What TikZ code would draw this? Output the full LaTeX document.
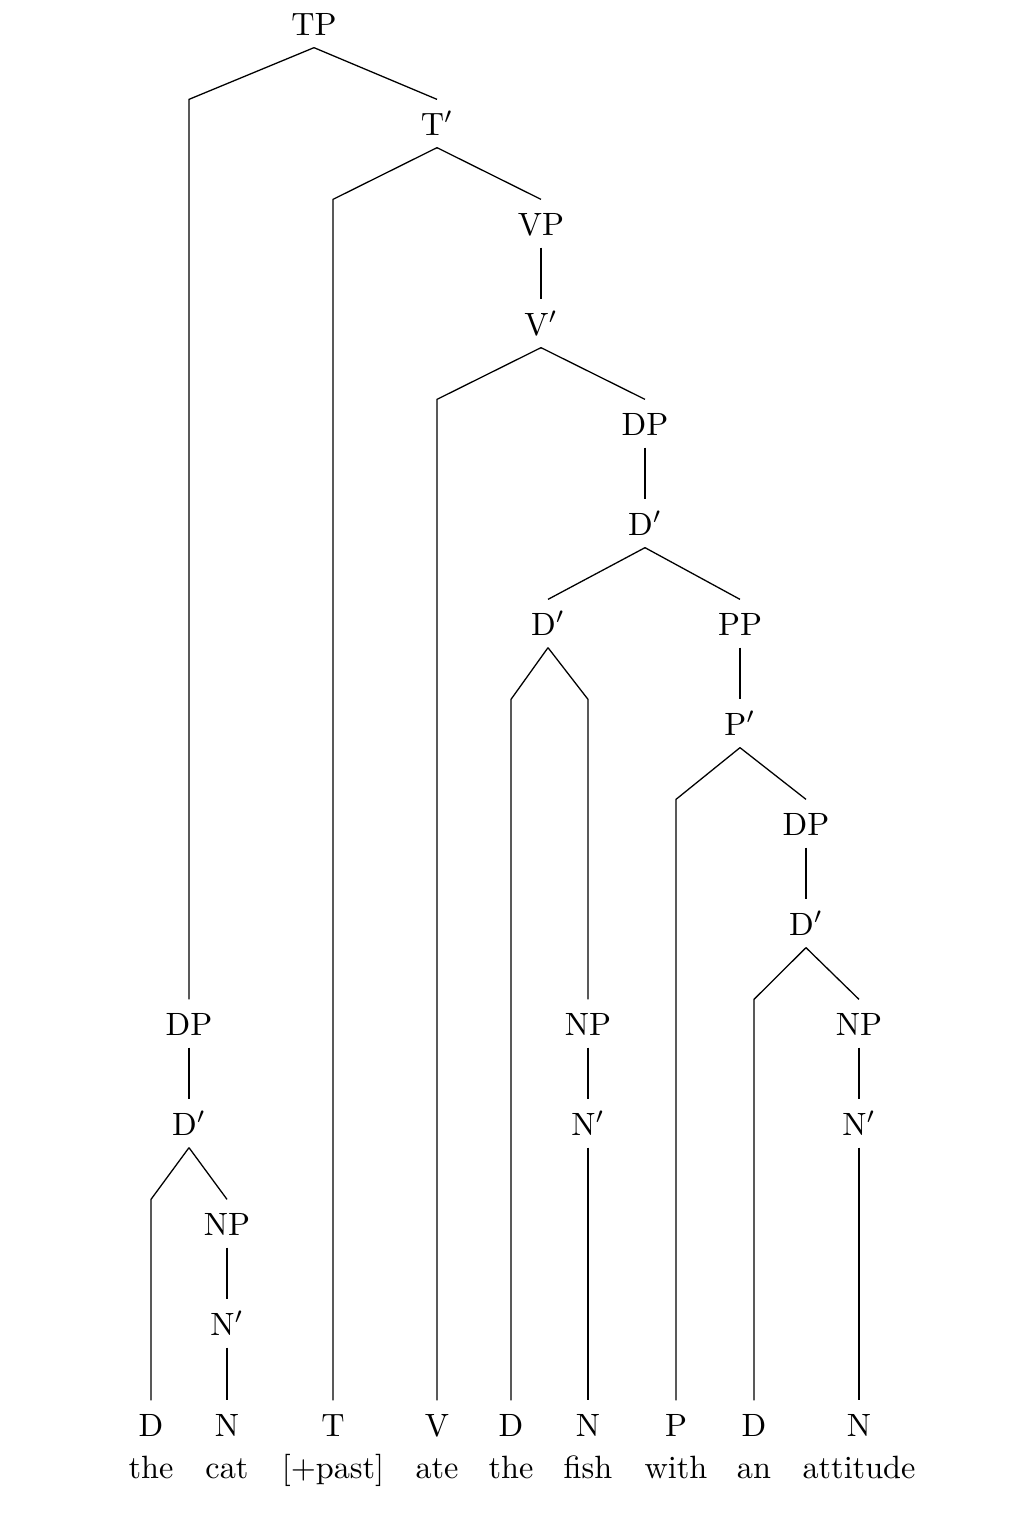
\documentclass[tikz,border=0pt]{standalone}
\begin{document}
\begin{tikzpicture}[x=0.31pt,y=-0.31pt,
  lab/.style={inner sep=0pt,text height=10.85pt,text depth=3.72pt,anchor=base},
  word/.style={inner sep=0pt,anchor=base},
  br/.style={line width=0.4pt}]
\useasboundingbox (0,0) rectangle (1014,1520);
% phrase nodes
\node[lab] (TP) at (314,35) {TP};
\node[lab] (T1) at (437,135) {T$'$};
\node[lab] (VP) at (541,235) {VP};
\node[lab] (V1) at (541,335) {V$'$};
\node[lab] (DP1) at (645,435) {DP};
\node[lab] (D1) at (645,535) {D$'$};
\node[lab] (D2) at (548,635) {D$'$};
\node[lab] (PP) at (740,635) {PP};
\node[lab] (P1) at (740,735) {P$'$};
\node[lab] (DP2) at (806,835) {DP};
\node[lab] (D3) at (806,935) {D$'$};
\node[lab] (DP0) at (189,1035) {DP};
\node[lab] (NP1) at (588,1035) {NP};
\node[lab] (NP2) at (859,1035) {NP};
\node[lab] (D0) at (189,1135) {D$'$};
\node[lab] (N1) at (588,1135) {N$'$};
\node[lab] (N2) at (859,1135) {N$'$};
\node[lab] (NP0) at (227,1235) {NP};
\node[lab] (N0) at (227,1335) {N$'$};
% terminals
\node[lab] (Da) at (151,1436) {D};
\node[lab] (Na) at (227,1436) {N};
\node[lab] (T) at (333,1436) {T};
\node[lab] (V) at (437,1436) {V};
\node[lab] (Db) at (511,1436) {D};
\node[lab] (Nb) at (588,1436) {N};
\node[lab] (P) at (676,1436) {P};
\node[lab] (Dc) at (754,1436) {D};
\node[lab] (Nc) at (859,1436) {N};
% words
\node[word] (wa) at (151,1478) {the};
\node[word] (wb) at (227,1478) {cat};
\node[word] (wc) at (333,1478) {[+past]};
\node[word] (wd) at (437,1478) {ate};
\node[word] (we) at (511,1478) {the};
\node[word] (wf) at (588,1478) {fish};
\node[word] (wg) at (676,1478) {with};
\node[word] (wh) at (754,1478) {an};
\node[word] (wi) at (859,1478) {attitude};
% branches
\draw[br] (TP.south) -- (DP0.north |- T1.north) -- (DP0.north);
\draw[br] (TP.south) -- (T1.north);
\draw[br] (T1.south) -- (T.north |- VP.north) -- (T.north);
\draw[br] (T1.south) -- (VP.north);
\draw[br] (VP.south) -- (V1.north);
\draw[br] (V1.south) -- (V.north |- DP1.north) -- (V.north);
\draw[br] (V1.south) -- (DP1.north);
\draw[br] (DP1.south) -- (D1.north);
\draw[br] (D1.south) -- (D2.north);
\draw[br] (D1.south) -- (PP.north);
\draw[br] (D2.south) -- (Db.north |- P1.north) -- (Db.north);
\draw[br] (D2.south) -- (NP1.north |- P1.north) -- (NP1.north);
\draw[br] (PP.south) -- (P1.north);
\draw[br] (P1.south) -- (P.north |- DP2.north) -- (P.north);
\draw[br] (P1.south) -- (DP2.north);
\draw[br] (DP2.south) -- (D3.north);
\draw[br] (D3.south) -- (Dc.north |- NP2.north) -- (Dc.north);
\draw[br] (D3.south) -- (NP2.north);
\draw[br] (NP2.south) -- (N2.north);
\draw[br] (N2.south) -- (Nc.north);
\draw[br] (NP1.south) -- (N1.north);
\draw[br] (N1.south) -- (Nb.north);
\draw[br] (DP0.south) -- (D0.north);
\draw[br] (D0.south) -- (Da.north |- NP0.north) -- (Da.north);
\draw[br] (D0.south) -- (NP0.north);
\draw[br] (NP0.south) -- (N0.north);
\draw[br] (N0.south) -- (Na.north);
\end{tikzpicture}
\end{document}
